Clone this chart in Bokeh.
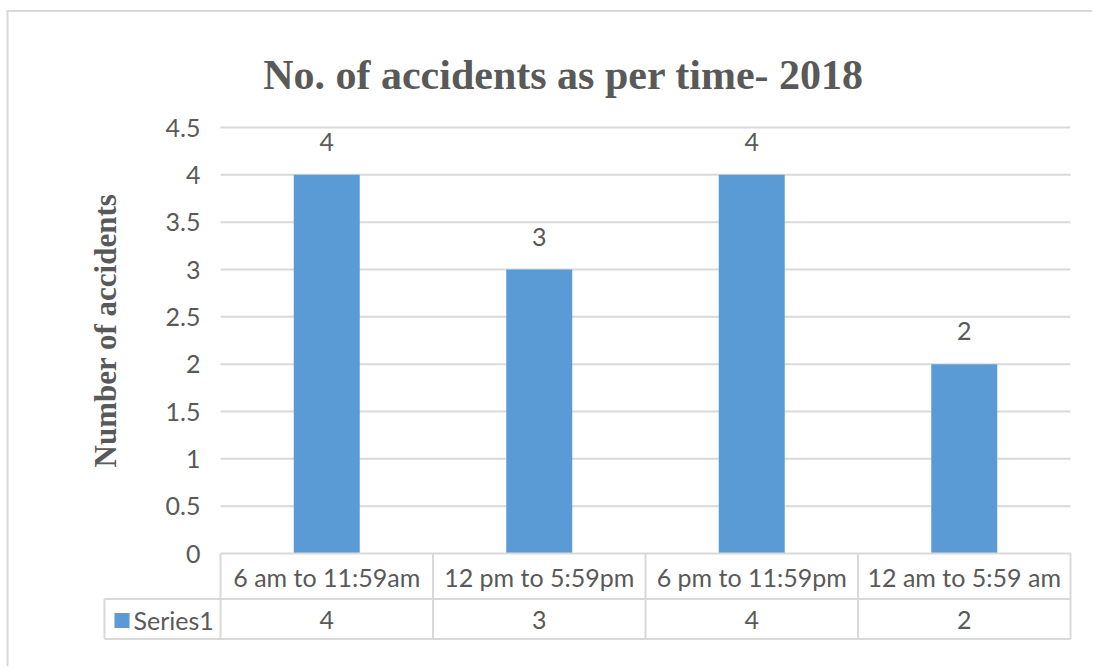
import math
from bokeh.plotting import figure
from bokeh.models import Range1d
from bokeh.core.properties import value
from bokeh.embed import file_html
from bokeh.resources import INLINE

# ---- data ----
categories = ["6 am to 11:59am", "12 pm to 5:59pm", "6 pm to 11:59pm", "12 am to 5:59 am"]
accidents = [4, 3, 4, 2]
series_name = "Series1"
y_ticks = [0, 0.5, 1, 1.5, 2, 2.5, 3, 3.5, 4, 4.5]
y_tick_labels = ["0", "0.5", "1", "1.5", "2", "2.5", "3", "3.5", "4", "4.5"]
title_text = "No. of accidents as per time- 2018"
y_label = "Number of accidents"

# ---- layout (pixel geometry of the page) ----
W, H = 1092, 666
PAGE_X0, PAGE_Y0 = 0, 0
PLOT_L, PLOT_R = 220, 1070
PLOT_T, PLOT_B = 127, 553
XU = (PLOT_R - PLOT_L) / len(categories)
YU = (PLOT_B - PLOT_T) / y_ticks[-1]

def fx(px):
    return (px - PLOT_L) / XU

def fy(py):
    return (PLOT_B - py) / YU

GRID = "#d9d9d9"
TXT = "#595959"
BAR = "#5B9BD5"
SANS = value("Lato")
SERIF = value("Liberation Serif")
FS = "25px"

p = figure(width=W, height=H,
           x_range=Range1d(fx(PAGE_X0), fx(PAGE_X0 + W)),
           y_range=Range1d(fy(PAGE_Y0 + H), fy(PAGE_Y0)),
           output_backend="svg", toolbar_location=None,
           x_axis_location=None, y_axis_location=None,
           min_border=0, min_border_left=0, min_border_right=0,
           min_border_top=0, min_border_bottom=0)
p.grid.visible = False
p.outline_line_color = None
p.background_fill_color = "white"
p.border_fill_color = "white"

# outer chart border
p.segment(x0=[fx(7), fx(6)], y0=[fy(10.5), fy(10.5)],
          x1=[fx(7), fx(PAGE_X0 + W)], y1=[fy(PAGE_Y0 + H), fy(10.5)],
          line_color=GRID, line_width=2)

# gridlines
ncat = len(categories)
grid_y = [t for t in y_ticks if t > 0]
p.segment(x0=[0] * len(grid_y), y0=grid_y, x1=[ncat] * len(grid_y), y1=grid_y,
          line_color=GRID, line_width=2)

# y tick labels
p.text(x=[fx(200)] * len(y_ticks), y=y_ticks, text=y_tick_labels,
       text_align="right", text_baseline="middle",
       text_font=SANS, text_font_size=FS, text_color=TXT)

# bars
xc = [i + 0.5 for i in range(ncat)]
p.vbar(x=xc, top=accidents, bottom=0, width=66 / XU, fill_color=BAR, line_color=None)

# data labels
p.text(x=xc, y=accidents, text=[str(v) for v in accidents], y_offset=-33,
       text_align="center", text_baseline="alphabetic",
       text_font=SANS, text_font_size=FS, text_color=TXT)

# title
p.text(x=[fx(563)], y=[fy(74)], text=[title_text], text_align="center",
       text_baseline="alphabetic", text_font=SERIF, text_font_style="bold",
       text_font_size="42px", text_color=TXT)

# y axis title
p.text(x=[fx(105)], y=[fy(330)], text=[y_label], angle=math.pi / 2,
       text_align="center", text_baseline="alphabetic", text_font=SERIF,
       text_font_style="bold", text_font_size="31px", text_color=TXT)

# data table
row1, row2 = 598.5, 638.5
p.segment(x0=[0, fx(104), fx(104)], y0=[0, fy(row1), fy(row2)],
          x1=[ncat, ncat, ncat], y1=[0, fy(row1), fy(row2)],
          line_color=GRID, line_width=2)
vx = list(range(ncat + 1))
p.segment(x0=vx, y0=[0] * len(vx), x1=vx, y1=[fy(row2)] * len(vx),
          line_color=GRID, line_width=2)
p.segment(x0=[fx(104)], y0=[fy(row1)], x1=[fx(104)], y1=[fy(row2)],
          line_color=GRID, line_width=2)

p.text(x=xc, y=[fy(576.5)] * ncat, text=categories, text_align="center",
       text_baseline="middle", text_font=SANS, text_font_size=FS, text_color=TXT)
p.text(x=xc, y=[fy(619)] * ncat, text=[str(v) for v in accidents], text_align="center",
       text_baseline="middle", text_font=SANS, text_font_size=FS, text_color=TXT)
p.scatter(x=[fx(121.5)], y=[fy(620)], marker="square", size=15,
          fill_color=BAR, line_color=None)
p.text(x=[fx(133)], y=[fy(619)], text=[series_name], text_align="left",
       text_baseline="middle", text_font=SANS, text_font_size=FS, text_color=TXT)

open("out.html", "w").write(file_html(p, INLINE))
